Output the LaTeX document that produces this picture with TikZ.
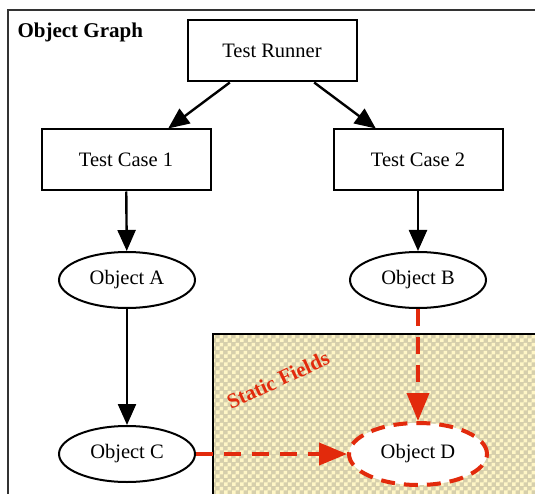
\documentclass[tikz,border=0pt]{standalone}
\usepackage{fontspec}
\setmainfont{Liberation Serif}
\usetikzlibrary{arrows.meta,shapes.geometric,patterns}
\definecolor{redA}{RGB}{226,42,12}
\definecolor{checkdark}{RGB}{214,207,172}
\definecolor{checklight}{RGB}{255,246,198}
\pgfdeclarepatternformonly{mychecks}{\pgfpointorigin}{\pgfqpoint{8pt}{8pt}}{\pgfqpoint{8pt}{8pt}}{%
  \pgfpathrectangle{\pgfpointorigin}{\pgfqpoint{4pt}{4pt}}%
  \pgfpathrectangle{\pgfqpoint{4pt}{4pt}}{\pgfqpoint{4pt}{4pt}}%
  \pgfusepath{fill}}
\tikzset{
  txt/.style={font=\fontsize{20.5}{24}\selectfont},
  boxnode/.style={draw, line width=2pt, fill=white, minimum width=169pt, minimum height=61pt, inner sep=0pt, txt},
  ellnode/.style={ellipse, draw, line width=2pt, fill=white, minimum width=136pt, minimum height=56pt, inner sep=0pt, txt},
  blackarrow/.style={line width=2.4pt, -{Triangle[length=21pt,width=18pt]}},
  redarrow/.style={draw=redA, line width=4pt, dash pattern=on 17pt off 11pt, -{Triangle[length=28pt,width=22pt]}, redA},
}
\begin{document}
\begin{tikzpicture}[x=1pt,y=-1pt]
\useasboundingbox (0,0) rectangle (535,494);
\clip (0,0) rectangle (535,494);
\fill[white] (0,0) rectangle (535,494);
% outer frame
\draw[line width=1.5pt, draw=black!80] (8,520) -- (8,10) -- (560,10);
% static fields region
\fill[checkdark] (213,334) rectangle (560,520);
\fill[pattern=mychecks, pattern color=checklight] (213,334) rectangle (560,520);
\draw[line width=1.2pt] (213,520) -- (213,334) -- (560,334);
\node[font=\bfseries\fontsize{21}{24}\selectfont, anchor=west] (title) at (14,32) {Object Graph};
\node[rotate=25, text=redA, font=\bfseries\fontsize{21}{24}\selectfont] (sf) at (278,380) {Static Fields};
% nodes
\node[boxnode] (runner) at (272,51) {Test Runner};
\node[boxnode] (tc1) at (126,160) {Test Case 1};
\node[boxnode] (tc2) at (418,160) {Test Case 2};
\node[ellnode] (oa) at (127,280) {Object A};
\node[ellnode] (ob) at (418,280) {Object B};
\node[ellnode] (oc) at (127,454) {Object C};
\node[ellnode, minimum width=138pt, minimum height=62pt, draw=redA, line width=4pt, dash pattern=on 14pt off 9pt] (od) at (418,454) {Object D};
% connectors
\draw[blackarrow] (runner) -- (tc1);
\draw[blackarrow] (runner) -- (tc2);
\draw[blackarrow] (tc1) -- (oa);
\draw[blackarrow] (tc2) -- (ob);
\draw[blackarrow] (oa) -- (oc);
\draw[redarrow] (ob) -- (od);
\draw[redarrow] (oc) -- (od);
\end{tikzpicture}
\end{document}
